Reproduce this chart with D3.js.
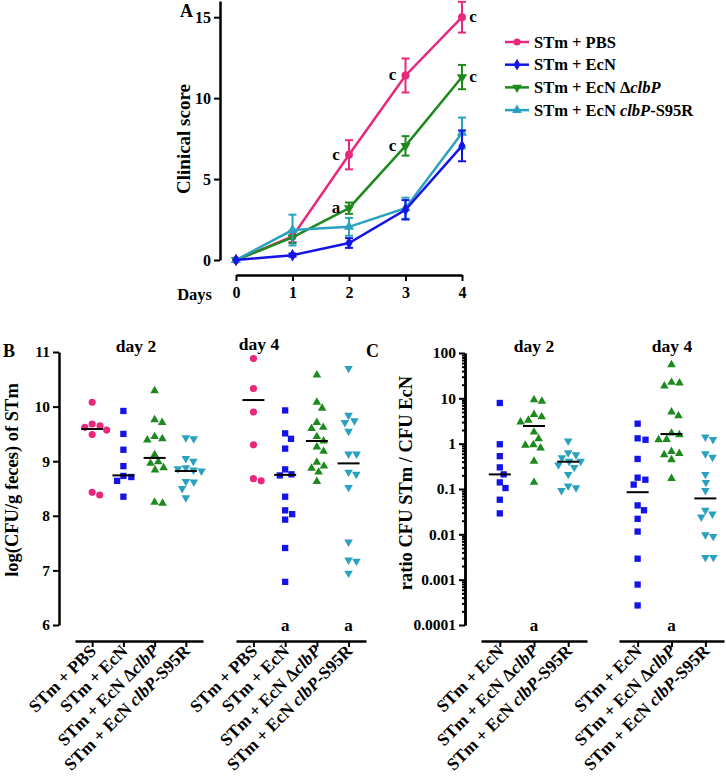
<!DOCTYPE html>
<html><head><meta charset="utf-8">
<script src="https://cdn.jsdelivr.net/npm/d3@7"></script>
<style>
body{margin:0;background:#fff}
svg{display:block}
text{font-family:"Liberation Serif","Times New Roman",serif;font-weight:bold;fill:#000}
</style></head><body>
<svg id="c" width="726" height="784"></svg>
<script>
// ---------- Panel A data ----------
const daysA = [0, 1, 2, 3, 4];
const seriesA = ["STm + PBS", "STm + EcN", "STm + EcN ΔclbP", "STm + EcN clbP-S95R"];
const meanPBS  = [0, 1.45, 6.5, 11.4, 15.0];
const errPBS   = [0, 0.35, 0.9, 1.05, 0.95];
const meanEcN  = [0, 0.3, 1.05, 3.1, 7.05];
const errEcN   = [0, 0.1, 0.3, 0.6, 0.95];
const meanDclb = [0, 1.4, 3.2, 7.05, 11.3];
const errDclb  = [0, 0.35, 0.35, 0.6, 0.75];
const meanS95R = [0, 1.85, 2.05, 3.2, 7.85];
const errS95R  = [0, 0.95, 0.55, 0.65, 0.95];
const sigA_series = [0, 0, 0, 2, 2, 2];
const sigA_day    = [2, 3, 4, 2, 3, 4];
const sigA_text   = ["c", "c", "c", "a", "c", "c"];

// ---------- Panel B data (log CFU/g feces) ----------
const catsB = ["STm + PBS", "STm + EcN", "STm + EcN ΔclbP", "STm + EcN clbP-S95R"];
const b2_PBS  = [10.08, 9.65, 9.68, 9.57, 9.62, 9.49, 8.38, 8.43];
const b2_EcN  = [9.92, 9.5, 9.21, 8.91, 8.73, 8.71, 8.64, 8.35];
const b2_Dclb = [10.29, 9.71, 9.76, 9.41, 9.39, 9.45, 9.12, 8.99, 8.96, 8.88, 8.84, 8.23, 8.25];
const b2_S95R = [9.41, 9.43, 9.05, 9.0, 8.88, 8.86, 8.84, 8.82, 8.62, 8.63, 8.5, 8.33];
const b4_PBS  = [10.88, 10.33, 9.9, 9.3, 8.64, 8.68];
const b4_EcN  = [9.93, 9.51, 9.41, 9.23, 8.85, 8.76, 8.74, 8.35, 8.10, 8.03, 7.93, 7.41, 6.79];
const b4_Dclb = [10.58, 10.08, 9.97, 9.71, 9.62, 9.6, 9.45, 9.37, 9.26, 9.18, 8.98, 8.91, 8.87, 8.80, 8.63];
const b4_S95R = [10.7, 9.84, 9.74, 9.71, 9.55, 9.13, 9.13, 8.80, 8.76, 8.52, 7.52, 7.19, 7.17, 6.95];
const medB2 = [9.59, 8.74, 9.06, 8.82];
const medB4 = [10.12, 8.75, 9.37, 8.96];
const sigB2 = ["", "", "", ""];
const sigB4 = ["", "a", "", "a"];
const ticksB = [6, 7, 8, 9, 10, 11];

// ---------- Panel C data (ratio CFU STm / CFU EcN) ----------
const catsC = ["STm + EcN", "STm + EcN ΔclbP", "STm + EcN clbP-S95R"];
const c2_EcN  = [7.9, 0.97, 0.53, 0.30, 0.21, 0.14, 0.105, 0.058, 0.029];
const c2_Dclb = [8.6, 9.3, 4.4, 3.9, 3.0, 3.3, 1.8, 0.95, 0.8, 0.92, 1.29, 0.41, 0.14];
const c2_S95R = [1.14, 0.63, 0.57, 0.49, 0.41, 0.41, 0.30, 0.34, 0.21, 0.116, 0.093, 0.107];
const c4_EcN  = [2.76, 1.22, 1.31, 0.46, 0.178, 0.16, 0.125, 0.0435, 0.034, 0.022, 0.0115, 0.0029, 0.00078, 0.00027];
const c4_Dclb = [55, 21.7, 18.7, 22.5, 4.1, 5.0, 1.71, 1.58, 1.24, 1.22, 0.57, 0.67, 0.61, 0.44, 0.17];
const c4_S95R = [1.4, 1.24, 0.5, 0.6, 0.21, 0.14, 0.093, 0.034, 0.028, 0.024, 0.0098, 0.009, 0.0031, 0.0031];
const medC2 = [0.21, 2.45, 0.40];
const medC4 = [0.085, 1.63, 0.062];
const sigC2 = ["", "a", ""];
const sigC4 = ["", "a", ""];
const ticksC = [0.0001, 0.001, 0.01, 0.1, 1, 10, 100];
const tickLabelsC = ["0.0001", "0.001", "0.01", "0.1", "1", "10", "100"];

// ---------- styling ----------
const COL = ["#e8287c", "#1414e6", "#1e8a1e", "#2aa2bf"];
const svg = d3.select("#c");
const FONT = 15.5;

function styleAxis(g) {
  g.attr("font-family", null).attr("font-size", null);
  g.select(".domain").attr("stroke", "#000").attr("stroke-width", 2.5);
  g.selectAll(".tick line").attr("stroke", "#000").attr("stroke-width", 2);
  g.selectAll(".tick text").attr("font-size", FONT).attr("fill", "#000");
}

const symCircle = d3.symbol().type(d3.symbolCircle);
const symSquare = d3.symbol().type(d3.symbolSquare);
const symTri = d3.symbol().type(d3.symbolTriangle);
const symDiamond = d3.symbol().type(d3.symbolDiamond);
function marker(g, kind, x, y, color, size) {
  let gen = symTri;
  if (kind === "circle") gen = symCircle;
  else if (kind === "square") gen = symSquare;
  else if (kind === "diamond") gen = symDiamond;
  return g.append("path").attr("d", gen.size(size)()).attr("fill", color)
    .attr("transform", `translate(${x},${y})` + (kind === "down" ? " rotate(180)" : ""));
}
function italicize(t, name) {
  const parts = name.split("clbP");
  parts.forEach((p, j) => {
    if (p) t.append("tspan").text(p);
    if (j < parts.length - 1) t.append("tspan").attr("font-style", "italic").text("clbP");
  });
}

// ================= PANEL A =================
const xA = d3.scaleLinear().domain([0, 4]).range([236, 462]);
const yA = d3.scaleLinear().domain([0, 16]).range([260, 1]);
const gA = svg.append("g");
gA.append("g").attr("transform", "translate(220,0)")
  .call(d3.axisLeft(yA).tickValues([0, 5, 10, 15]).tickFormat(d3.format("d")).tickSize(6).tickSizeOuter(0).tickPadding(3))
  .call(styleAxis);
gA.append("g").attr("transform", "translate(0,275)")
  .call(d3.axisBottom(xA).tickValues(daysA).tickFormat(d3.format("d")).tickSize(6).tickSizeOuter(0).tickPadding(6))
  .call(styleAxis);
gA.selectAll("text").attr("font-size", 16);
gA.append("text").attr("x", 212).attr("y", 300).attr("text-anchor", "end").attr("font-size", 16.5).text("Days");
gA.append("text").attr("x", 180).attr("y", 17).attr("font-size", 18).text("A");
gA.append("text").attr("transform", "translate(190,139) rotate(-90)").attr("text-anchor", "middle")
  .attr("font-size", 19).text("Clinical score");

const meansA = [meanPBS, meanEcN, meanDclb, meanS95R];
const errsA = [errPBS, errEcN, errDclb, errS95R];
const kindsA = ["circle", "diamond", "down", "up"];
const line = d3.line().x((d, i) => xA(daysA[i])).y(d => yA(d));
[0, 2, 3, 1].forEach(s => {
  const g = gA.append("g");
  g.append("path").attr("d", line(meansA[s])).attr("fill", "none").attr("stroke", COL[s]).attr("stroke-width", 2.5);
  meansA[s].forEach((m, i) => {
    const e = errsA[s][i];
    const x = xA(daysA[i]);
    if (e > 0) {
      g.append("line").attr("x1", x).attr("x2", x).attr("y1", yA(m - e)).attr("y2", yA(m + e)).attr("stroke", COL[s]).attr("stroke-width", 2);
      [m - e, m + e].forEach(v => g.append("line").attr("x1", x - 4).attr("x2", x + 4).attr("y1", yA(v)).attr("y2", yA(v)).attr("stroke", COL[s]).attr("stroke-width", 2));
    }
    marker(g, kindsA[s], x, yA(m), COL[s], kindsA[s] === "circle" ? 50 : 45);
  });
});
sigA_text.forEach((t, k) => {
  const s = sigA_series[k], d = sigA_day[k];
  const right = d === 4;
  gA.append("text").attr("x", xA(d) + (right ? 11 : -13)).attr("y", yA(meansA[s][d]) + 5)
    .attr("text-anchor", "middle").attr("font-size", 17).text(t);
});
seriesA.forEach((name, i) => {
  const y = 42 + i * 22.7;
  const g = gA.append("g");
  g.append("line").attr("x1", 505).attr("x2", 529).attr("y1", y).attr("y2", y).attr("stroke", COL[i]).attr("stroke-width", 2.5);
  marker(g, kindsA[i], 517, y, COL[i], 40);
  const t = g.append("text").attr("x", 534).attr("y", y + 5.5).attr("font-size", 16.5);
  italicize(t, name);
});

// ================= generic scatter =================
function swarm(vals, ys, d) {
  const pts = vals.map(v => ({ v, y: ys(v) }));
  const order = pts.slice().sort((a, b) => a.y - b.y);
  const placed = [];
  order.forEach(p => {
    const cands = [0];
    placed.forEach(q => {
      const dy = Math.abs(q.y - p.y);
      if (dy < d) { const dx = Math.sqrt(d * d - dy * dy); cands.push(q.x + dx + 0.01, q.x - dx - 0.01); }
    });
    cands.sort((a, b) => Math.abs(a) - Math.abs(b));
    for (const c of cands) {
      if (placed.every(q => Math.hypot(q.x - c, q.y - p.y) >= d - 0.001)) { p.x = c; break; }
    }
    placed.push(p);
  });
  return pts;
}

const AXY = 641;   // bottom category axis of panels B and C
const YTOP = 352, YBOT = 625;

function group(g, yScale, cats, datasets, meds, sigs, colors, kinds, lineX0, lineX1) {
  const xs = d3.scalePoint().domain(cats).range([lineX0, lineX1]).padding(0.55);
  g.append("g").attr("transform", `translate(0,${AXY})`)
    .call(d3.axisBottom(xs).tickSize(6).tickSizeOuter(0).tickFormat(""))
    .call(styleAxis);
  cats.forEach((c, i) => {
    const cx = xs(c);
    swarm(datasets[i], yScale, 8).forEach(p => {
      const sz = kinds[i] === "square" ? 40 : (kinds[i] === "circle" ? 40 : 32);
      marker(g, kinds[i], cx + p.x, p.y, colors[i], sz);
    });
    g.append("line").attr("x1", cx - 11).attr("x2", cx + 11).attr("y1", yScale(meds[i])).attr("y2", yScale(meds[i]))
      .attr("stroke", "#000").attr("stroke-width", 2);
    if (sigs[i]) g.append("text").attr("x", cx).attr("y", YBOT + 6).attr("text-anchor", "middle").attr("font-size", 17).text(sigs[i]);
    const t = g.append("text").attr("transform", `translate(${cx + 5},${AXY + 11}) rotate(-45)`)
      .attr("text-anchor", "end").attr("font-size", 17.5);
    italicize(t, c);
  });
}

// ================= PANEL B =================
const yB = d3.scaleLinear().domain([6, 11]).range([YBOT, YTOP]);
const gB = svg.append("g");
gB.append("g").attr("transform", "translate(59,0)")
  .call(d3.axisLeft(yB).tickValues(ticksB).tickFormat(d3.format("d")).tickSize(6).tickSizeOuter(0).tickPadding(3))
  .call(styleAxis);
gB.append("text").attr("x", 3).attr("y", 357).attr("font-size", 18).text("B");
gB.append("text").attr("transform", "translate(18,480) rotate(-90)").attr("text-anchor", "middle")
  .attr("font-size", 18.5).text("log(CFU/g feces) of STm");
const kindsB = ["circle", "square", "up", "down"];
group(gB, yB, catsB, [b2_PBS, b2_EcN, b2_Dclb, b2_S95R], medB2, sigB2, COL, kindsB, 75, 203);
group(gB, yB, catsB, [b4_PBS, b4_EcN, b4_Dclb, b4_S95R], medB4, sigB4, COL, kindsB, 236, 366);
gB.append("text").attr("x", 136).attr("y", 352).attr("text-anchor", "middle").attr("font-size", 17.5).text("day 2");
gB.append("text").attr("x", 259).attr("y", 350).attr("text-anchor", "middle").attr("font-size", 17.5).text("day 4");

// ================= PANEL C =================
const yC = d3.scaleLog().domain([0.0001, 100]).range([YBOT, YTOP + 1]);
const gC = svg.append("g");
const minorC = [];
[0.0001, 0.001, 0.01, 0.1, 1, 10].forEach(b => { for (let k = 2; k <= 9; k++) minorC.push(b * k); });
gC.append("g").attr("transform", "translate(465,0)")
  .call(d3.axisLeft(yC).tickValues(minorC).tickSize(3).tickSizeOuter(0).tickFormat(""))
  .call(styleAxis);
gC.append("g").attr("transform", "translate(465,0)")
  .call(d3.axisLeft(yC).tickValues(ticksC).tickSize(6).tickSizeOuter(0).tickPadding(3).tickFormat((d, i) => tickLabelsC[i]))
  .call(styleAxis);
gC.append("text").attr("x", 366).attr("y", 357).attr("font-size", 18).text("C");
gC.append("text").attr("transform", "translate(412,483) rotate(-90)").attr("text-anchor", "middle")
  .attr("font-size", 18.5).text("ratio CFU STm / CFU EcN");
const kindsC = ["square", "up", "down"];
const colC = [COL[1], COL[2], COL[3]];
group(gC, yC, catsC, [c2_EcN, c2_Dclb, c2_S95R], medC2, sigC2, colC, kindsC, 481, 587);
group(gC, yC, catsC, [c4_EcN, c4_Dclb, c4_S95R], medC4, sigC4, colC, kindsC, 619, 724);
gC.append("text").attr("x", 534).attr("y", 352).attr("text-anchor", "middle").attr("font-size", 17.5).text("day 2");
gC.append("text").attr("x", 672).attr("y", 352).attr("text-anchor", "middle").attr("font-size", 17.5).text("day 4");
</script>
</body></html>
